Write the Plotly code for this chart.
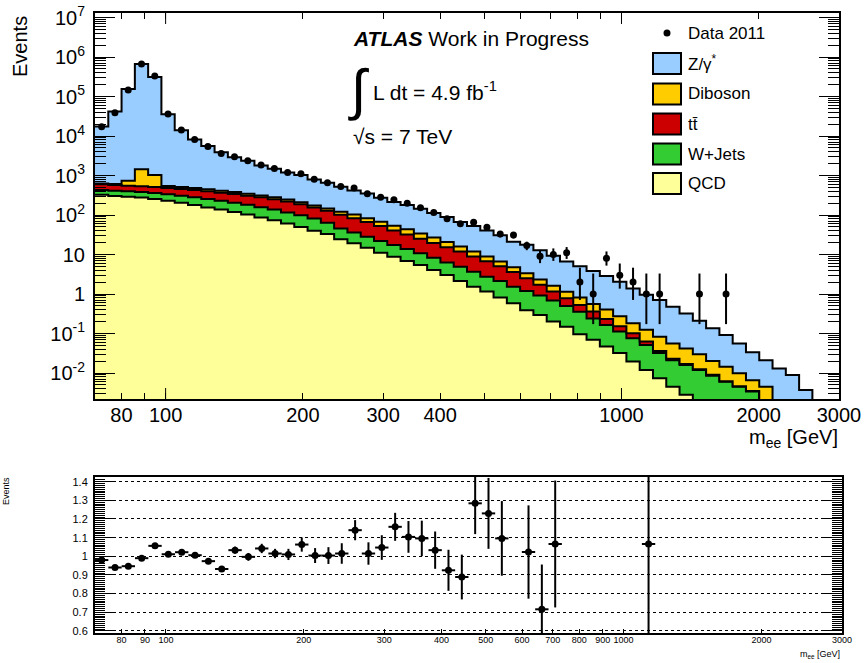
import numpy as np
import plotly.graph_objects as go

# ---------------- data ----------------
bin_edges = [70.00, 74.86, 80.05, 85.61, 91.55, 97.90, 104.70, 111.97, 119.74, 128.05,
             136.94, 146.44, 156.61, 167.48, 179.10, 191.53, 204.83, 219.04, 234.24, 250.50,
             267.89, 286.48, 306.36, 327.63, 350.36, 374.68, 400.69, 428.49, 458.23, 490.04,
             524.05, 560.42, 599.31, 640.90, 685.38, 732.95, 783.82, 838.22, 896.39, 958.60,
             1025.1, 1096.3, 1172.4, 1253.7, 1340.7, 1433.8, 1533.3, 1639.7, 1753.5, 1875.2,
             2005.3, 2144.5, 2293.4, 2452.5, 2622.7, 2804.7, 3000.0]

qcd = [327, 302, 289, 276, 254, 230, 203, 178, 155, 138,
       120, 103, 86, 74, 61, 50, 40, 33, 24.5, 19.2,
       14.9, 11.1, 8.8, 6.8, 5.4, 4.07, 3.03, 2.14, 1.53, 1.15,
       0.81, 0.58, 0.39, 0.295, 0.20, 0.148, 0.096, 0.069, 0.047, 0.032,
       0.0195, 0.012, 0.0074, 0.0045, 0.0028, 0, 0, 0, 0, 0,
       0, 0, 0, 0, 0, 0]

wjets = [103, 111, 109, 106, 106, 103, 105, 102, 99, 92,
         84, 78, 72, 64, 55, 48, 41, 31, 21.1, 17.1,
         13.4, 10.8, 8.6, 7.0, 5.3, 4.23, 3.27, 2.76, 2.14, 1.60,
         1.33, 0.95, 0.81, 0.625, 0.48, 0.352, 0.259, 0.171, 0.117, 0.080,
         0.0565, 0.039, 0.0246, 0.0165, 0.0132, 0.012, 0.0085, 0.006, 0.0045, 0.0034,
         0, 0, 0, 0, 0, 0]

ttbar = [168, 163, 154, 151, 153, 149, 146, 150, 144, 137,
         135, 127, 122, 112, 104, 89, 74, 65, 56, 47,
         38, 31, 23, 18.5, 14.5, 11.2, 9.0, 7.0, 5.2, 4.0,
         2.9, 2.1, 1.3, 0.8, 0.48, 0.28, 0.17, 0.12, 0.07, 0.04,
         0.025, 0.012, 0.004, 0.002, 0.001, 0.0005, 0.0005, 0.0002, 0.0001, 0.0001,
         0, 0, 0, 0, 0, 0]

diboson = [30, 32, 188, 917, 517, 58, 54, 52, 48, 44,
           41, 37, 34, 30, 27, 23, 19, 16.5, 20, 19,
           17, 15, 13, 11, 9, 7.5, 5.5, 4.0, 3.0, 2.2,
           1.6, 1.1, 0.85, 0.62, 0.45, 0.36, 0.29, 0.20, 0.17, 0.122,
           0.08, 0.061, 0.047, 0.033, 0.025, 0.0175, 0.011, 0.0082, 0.0053, 0.0031,
           0.0045, 0, 0, 0, 0, 0]

zgamma = [16900, 40900, 153300, 668500, 309000, 35060, 13390, 7670, 5100, 3450,
          2520, 2035, 1466, 1210, 943, 825, 623, 511, 395, 318,
          267, 204, 159, 136, 109, 86, 68, 51, 41, 31.6,
          23.9, 16.3, 14.2, 10.5, 7.7, 5.5, 4.2, 3.24, 2.46, 1.77,
          1.2, 0.83, 0.62, 0.42, 0.28, 0.18, 0.115, 0.077, 0.046, 0.027,
          0.0165, 0.013, 0.0089, 0.0037, 0, 0]

data_counts = [17200, 39000, 146000, 665000, 330000, 36000, 14200, 8200, 5400, 3600,
               3000, 2370, 1850, 1510, 1200, 1100, 800, 660, 525, 480,
               347, 280, 245, 198, 152, 116, 80, 60, 66, 49,
               33, 31, 17, 9, 10, 11, 2, 1, 8, 3,
               2, 1, 1, 0, 0, 1, 0, 1, 0, 0,
               0, 0, 0, 0, 0, 0]

# 68% central Poisson intervals for small counts (lower, upper)
poisson_interval = {1: (0.173, 3.300), 2: (0.708, 4.638), 3: (1.367, 5.918),
                    8: (5.232, 11.95), 9: (6.057, 13.11), 10: (6.891, 14.27),
                    11: (7.734, 15.42)}

ratio_vals = [0.98, 0.94, 0.947, 0.99, 1.056, 1.011, 1.022, 1.006, 0.974, 0.932,
              1.033, 0.997, 1.042, 1.015, 1.01, 1.063, 1.004, 1.004, 1.015, 1.14,
              1.015, 1.047, 1.158, 1.104, 1.096, 1.033, 0.925, 0.889, 1.284, 1.23,
              1.096, None, 1.023, 0.716, 1.066, None, None, None, None, None,
              None, 1.066, None, None, None, None, None, None, None, None,
              None, None, None, None, None, None]

ratio_errs = [0.006, 0.005, 0.003, 0.002, 0.003, 0.006, 0.009, 0.012, 0.014, 0.016,
              0.019, 0.021, 0.025, 0.025, 0.03, 0.038, 0.04, 0.045, 0.055, 0.054,
              0.06, 0.066, 0.075, 0.085, 0.095, 0.1, 0.11, 0.12, 0.165, 0.19,
              0.2, None, 0.25, 0.24, 0.34, None, None, None, None, None,
              None, 1.07, None, None, None, None, None, None, None, None,
              None, None, None, None, None, None]

top_xtick_vals = [80, 100, 200, 300, 400, 1000, 2000, 3000]
top_xminor_vals = [90, 500, 600, 700, 800, 900]
bot_xtick_vals = [80, 90, 100, 200, 300, 400, 500, 600, 700, 800, 900, 1000, 2000, 3000]
top_ytick_vals = [1e-2, 1e-1, 1, 10, 1e2, 1e3, 1e4, 1e5, 1e6, 1e7]
top_ytick_text = ["10<sup>-2</sup>", "10<sup>-1</sup>", "1", "10", "10<sup>2</sup>",
                  "10<sup>3</sup>", "10<sup>4</sup>", "10<sup>5</sup>", "10<sup>6</sup>", "10<sup>7</sup>"]
bot_ytick_vals = [0.6, 0.7, 0.8, 0.9, 1.0, 1.1, 1.2, 1.3, 1.4]
bot_ytick_text = ["0.6", "0.7", "0.8", "0.9", "1", "1.1", "1.2", "1.3", "1.4"]

colors = {"QCD": "#FFFF99", "W+Jets": "#33CC33", "ttbar": "#CC0000",
          "Diboson": "#FFCC00", "Z": "#99CCFF"}

# ---------------- geometry ----------------
W, H = 868, 663
FONT = "Liberation Sans, Arial, Helvetica, sans-serif"
def px(x): return x / W
def py(y): return 1 - y / H

top_xdom = [px(95), px(839)]
top_ydom = [py(399), py(13)]
bot_xdom = [px(95), px(842)]
bot_ydom = [py(633), py(477)]
xr = [np.log10(70), np.log10(3000)]

edges = np.array(bin_edges)
nb = len(edges) - 1
centers = np.sqrt(edges[:-1] * edges[1:])
FLOOR = 1e-6

fig = go.Figure()

# baseline for the stacked fills
fig.add_trace(go.Scatter(x=edges, y=[FLOOR] * (nb + 1), mode="lines",
                         line=dict(width=0, shape="hv"), showlegend=False, hoverinfo="skip"))
stack = np.zeros(nb)
for name, vals in [("QCD", qcd), ("W+Jets", wjets), ("ttbar", ttbar),
                   ("Diboson", diboson), ("Z", zgamma)]:
    stack = stack + np.array(vals, dtype=float)
    y = np.where(stack > 0, stack, FLOOR)
    ystep = list(y) + [y[-1]]
    fig.add_trace(go.Scatter(x=edges, y=ystep, mode="lines",
                             line=dict(color="black", width=2, shape="hv"),
                             fill="tonexty", fillcolor=colors[name],
                             showlegend=False, hoverinfo="skip"))

# data points
dx, dy, eu, ed = [], [], [], []
for c, n in zip(centers, data_counts):
    if n <= 0:
        continue
    dx.append(c)
    dy.append(n)
    if n in poisson_interval:
        lo, hi = poisson_interval[n]
        ed.append(n - lo)
        eu.append(hi - n)
    else:
        ed.append(np.sqrt(n))
        eu.append(np.sqrt(n))
fig.add_trace(go.Scatter(x=dx, y=dy, mode="markers",
                         marker=dict(color="black", size=7),
                         error_y=dict(type="data", symmetric=False, array=eu, arrayminus=ed,
                                      color="black", thickness=2, width=0),
                         showlegend=False))

# ratio points
rx, ry, re, rxp, rxm = [], [], [], [], []
for i in range(nb):
    if ratio_vals[i] is None:
        continue
    rx.append(centers[i])
    ry.append(ratio_vals[i])
    re.append(ratio_errs[i])
    rxp.append(edges[i + 1] - centers[i])
    rxm.append(centers[i] - edges[i])
fig.add_trace(go.Scatter(x=rx, y=ry, mode="markers", xaxis="x2", yaxis="y2",
                         marker=dict(color="black", size=7),
                         error_y=dict(type="data", array=re, color="black", thickness=2, width=0),
                         error_x=dict(type="data", symmetric=False, array=rxp, arrayminus=rxm,
                                      color="black", thickness=2, width=0),
                         showlegend=False))

ylog_minor = [k * 10.0 ** n for n in range(-3, 7) for k in range(2, 10)]

fig.update_layout(
    width=W, height=H, autosize=False, margin=dict(l=0, r=0, t=0, b=0, pad=0),
    paper_bgcolor="white", plot_bgcolor="white", showlegend=False,
    font=dict(family=FONT, color="black"),
    xaxis=dict(domain=top_xdom, anchor="y", type="log", range=xr, automargin=False,
               tickmode="array", tickvals=top_xtick_vals,
               ticktext=[str(v) for v in top_xtick_vals],
               ticks="inside", ticklen=6, tickwidth=1, tickcolor="black",
               tickfont=dict(size=20), showline=True, linewidth=2, linecolor="black",
               mirror="allticks", showgrid=False, zeroline=False, ticklabelstandoff=-3,
               minor=dict(tickmode="array", tickvals=top_xminor_vals, ticks="inside",
                          ticklen=6, tickwidth=1, tickcolor="black", showgrid=False)),
    yaxis=dict(domain=top_ydom, anchor="x", type="log", range=[-2.658, 7.114], automargin=False,
               tickmode="array", tickvals=top_ytick_vals, ticktext=top_ytick_text,
               ticks="inside", ticklen=20, tickwidth=1, tickcolor="black",
               tickfont=dict(size=20), showline=True, linewidth=2, linecolor="black",
               mirror="allticks", showgrid=False, zeroline=False, ticklabelstandoff=4,
               minor=dict(tickmode="array", tickvals=ylog_minor, ticks="inside",
                          ticklen=11, tickwidth=1, tickcolor="black", showgrid=False)),
    xaxis2=dict(domain=bot_xdom, anchor="y2", type="log", range=xr, automargin=False,
                tickmode="array", tickvals=bot_xtick_vals,
                ticktext=[str(v) for v in bot_xtick_vals],
                ticks="inside", ticklen=4, tickwidth=1, tickcolor="black",
                tickfont=dict(size=9), showline=True, linewidth=2, linecolor="black",
                mirror=True, showgrid=False, zeroline=False, ticklabelstandoff=-3),
    yaxis2=dict(domain=bot_ydom, anchor="x2", range=[0.589, 1.425], automargin=False,
                tickmode="array", tickvals=bot_ytick_vals, ticktext=bot_ytick_text,
                ticks="inside", ticklen=18, tickwidth=1, tickcolor="black",
                tickfont=dict(size=11), showline=True, linewidth=2, linecolor="black",
                mirror="allticks", showgrid=True, gridcolor="black", griddash="dot",
                gridwidth=1, zeroline=False, ticklabelstandoff=3,
                minor=dict(tickmode="linear", tick0=0.6, dtick=0.01, ticks="inside",
                           ticklen=10, tickwidth=1, tickcolor="black", showgrid=False)),
)

# long (decade) x ticks on the top panel
def xpaper(v, dom):
    return dom[0] + (np.log10(v) - xr[0]) / (xr[1] - xr[0]) * (dom[1] - dom[0])
shapes = []
for v in [100, 1000]:
    xp = xpaper(v, top_xdom)
    shapes.append(dict(type="line", xref="paper", yref="paper", x0=xp, x1=xp,
                       y0=top_ydom[0], y1=top_ydom[0] + 11 / H, line=dict(color="black", width=1)))
    shapes.append(dict(type="line", xref="paper", yref="paper", x0=xp, x1=xp,
                       y0=top_ydom[1], y1=top_ydom[1] - 11 / H, line=dict(color="black", width=1)))

# legend (drawn by hand, ROOT style)
legend_items = [("Z/γ<sup>*</sup>", colors["Z"], 63.5),
                ("Diboson", colors["Diboson"], 94),
                ("tt\u0304", colors["ttbar"], 124),
                ("W+Jets", colors["W+Jets"], 154),
                ("QCD", colors["QCD"], 183.5)]
annotations = []
for label, col, yc in legend_items:
    shapes.append(dict(type="rect", xref="paper", yref="paper",
                       x0=px(653), x1=px(681), y0=py(yc + 10.5), y1=py(yc - 10.5),
                       fillcolor=col, line=dict(color="black", width=2)))
    annotations.append(dict(text=label, xref="paper", yref="paper", x=px(686), y=py(yc),
                            xanchor="left", yanchor="middle", showarrow=False,
                            font=dict(size=17)))
shapes.append(dict(type="circle", xref="paper", yref="paper",
                   x0=px(663.5), x1=px(670.5), y0=py(36.5), y1=py(29.5),
                   fillcolor="black", line=dict(color="black", width=0)))
annotations.append(dict(text="Data 2011", xref="paper", yref="paper", x=px(686), y=py(33),
                        xanchor="left", yanchor="middle", showarrow=False, font=dict(size=17)))

# ATLAS labels
annotations += [
    dict(text="<b><i>ATLAS</i></b> Work in Progress", xref="paper", yref="paper",
         x=px(351), y=py(38), xanchor="left", yanchor="middle", showarrow=False,
         font=dict(size=21)),
    dict(text="∫", xref="paper", yref="paper", x=px(358), y=py(90),
         xanchor="center", yanchor="middle", showarrow=False, font=dict(size=56)),
    dict(text="L dt = 4.9 fb<sup>-1</sup>", xref="paper", yref="paper",
         x=px(371), y=py(91), xanchor="left", yanchor="middle", showarrow=False,
         font=dict(size=21)),
    dict(text="√s = 7 TeV", xref="paper", yref="paper", x=px(351), y=py(137),
         xanchor="left", yanchor="middle", showarrow=False, font=dict(size=21)),
    # axis titles
    dict(text="Events", xref="paper", yref="paper", x=px(20), y=py(47), textangle=-90,
         xanchor="center", yanchor="middle", showarrow=False, font=dict(size=20)),
    dict(text="m<sub>ee</sub> [GeV]", xref="paper", yref="paper", x=px(840), y=py(438),
         xanchor="right", yanchor="middle", showarrow=False, font=dict(size=20)),
    dict(text="Events", xref="paper", yref="paper", x=px(6), y=py(491), textangle=-90,
         xanchor="center", yanchor="middle", showarrow=False, font=dict(size=9)),
    dict(text="m<sub>ee</sub> [GeV]", xref="paper", yref="paper", x=px(842), y=py(654),
         xanchor="right", yanchor="middle", showarrow=False, font=dict(size=9)),
]

fig.update_layout(shapes=shapes, annotations=annotations)
fig.write_html("out.html",
               config={"displayModeBar": False},
               post_script="document.documentElement.style.margin='0';"
                           "document.documentElement.style.overflow='hidden';"
                           "document.body.style.margin='0';"
                           "document.body.style.overflow='hidden';")
